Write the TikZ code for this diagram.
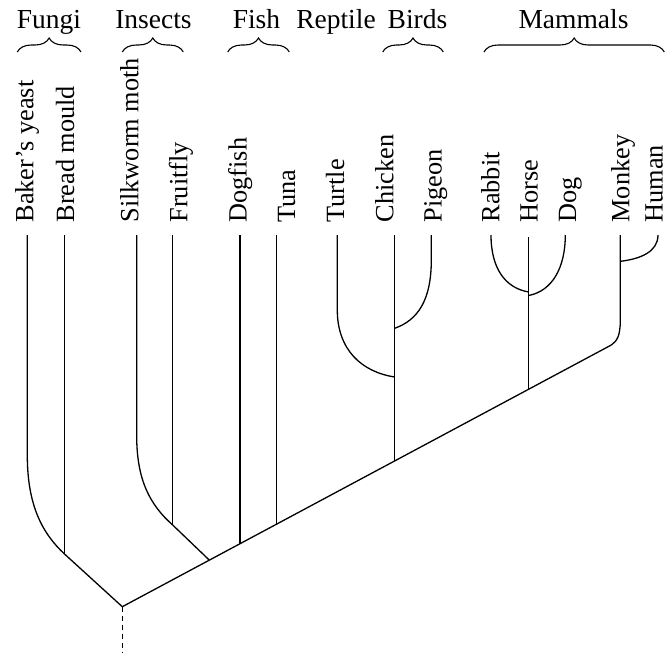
\documentclass[tikz,border=0pt]{standalone}
\usepackage{fontspec}
\setmainfont{Liberation Serif}
\usetikzlibrary{decorations.pathreplacing}
\begin{document}
\begin{tikzpicture}[x=1pt,y=-1pt,
  branch/.style={line width=1.3pt},
  leaf/.style={rotate=90, anchor=base west, inner sep=0pt, font=\fontsize{26.3}{30}\selectfont},
  group/.style={anchor=base, inner sep=0pt, font=\fontsize{27.5}{32}\selectfont},
  grpbrace/.style={decorate, decoration={brace, amplitude=14pt}, line width=1.1pt}]
\useasboundingbox (0,0) rectangle (666,659);

% group labels
\node[group] (gFun) at (49,28.3) {Fungi};
\node[group] (gIns) at (153.5,28.3) {Insects};
\node[group] (gFis) at (256.5,28.3) {Fish};
\node[group] (gRep) at (336,28.3) {Reptile};
\node[group] (gBir) at (417.5,28.3) {Birds};
\node[group] (gMam) at (573.5,28.3) {Mammals};

% braces
\coordinate (bFun1) at (17.3,52); \coordinate (bFun2) at (81,52);
\coordinate (bIns1) at (122.3,52); \coordinate (bIns2) at (183.3,52);
\coordinate (bFis1) at (227.7,52); \coordinate (bFis2) at (289.3,52);
\coordinate (bBir1) at (382.7,52); \coordinate (bBir2) at (443.3,52);
\coordinate (bMam1) at (484,52); \coordinate (bMam2) at (664.3,52);
\draw[grpbrace] (bFun1) -- (bFun2);
\draw[grpbrace] (bIns1) -- (bIns2);
\draw[grpbrace] (bFis1) -- (bFis2);
\draw[grpbrace] (bBir1) -- (bBir2);
\draw[grpbrace] (bMam1) -- (bMam2);

% leaf labels
\node[leaf] (lBak) at (33.3,222.7) {Baker’s yeast};
\node[leaf] (lBre) at (74,222.7) {Bread mould};
\node[leaf] (lSil) at (138.3,222.7) {Silkworm moth};
\node[leaf] (lFru) at (187.3,222.7) {Fruitfly};
\node[leaf] (lDog) at (246.7,222.7) {Dogfish};
\node[leaf] (lTun) at (295,222.7) {Tuna};
\node[leaf] (lTur) at (344,222.7) {Turtle};
\node[leaf] (lChi) at (393.3,222.7) {Chicken};
\node[leaf] (lPig) at (441.7,222.7) {Pigeon};
\node[leaf] (lRab) at (499.3,222.7) {Rabbit};
\node[leaf] (lHor) at (537.7,222.7) {Horse};
\node[leaf] (lDg) at (576,222.7) {Dog};
\node[leaf] (lMon) at (629.3,222.7) {Monkey};
\node[leaf, text depth=0pt] (lHum) at (662.5,222.7) {Human};

% line tops
\coordinate (tBak) at (27.3,235);
\coordinate (tBre) at (64.5,235);
\coordinate (tSil) at (136.7,235);
\coordinate (tFru) at (172.7,235);
\coordinate (tDog) at (240,235);
\coordinate (tTun) at (276.7,235);
\coordinate (tTur) at (337.3,235);
\coordinate (tChi) at (394.7,235);
\coordinate (tPig) at (431.3,235);
\coordinate (tRab) at (491,235);
\coordinate (tHor) at (528.7,237);
\coordinate (tDg) at (565.3,235);
\coordinate (tMon) at (620.3,235);
\coordinate (tHum) at (658,235);

% junctions
\coordinate (root) at (122.3,606.7);
\coordinate (rootEnd) at (122.3,653);
\coordinate (jFun) at (64.5,554);
\coordinate (jIns) at (209.3,560.1);
\coordinate (jFru) at (172.7,525);
\coordinate (jDog) at (240,543.7);
\coordinate (jTun) at (276.7,524.1);
\coordinate (jChi) at (394.7,460.9);
\coordinate (jTur) at (394.7,377);
\coordinate (jPig) at (394.7,328.3);
\coordinate (jHor) at (528.7,389.2);
\coordinate (jRab) at (528.7,292);
\coordinate (jDg) at (528.7,295.5);
\coordinate (jMam) at (611.3,345);
\coordinate (jHum) at (620.3,261.3);

% bends
\coordinate (kBak) at (27.3,455);
\coordinate (kSil) at (136.7,436);
\coordinate (kTur) at (337.3,310);
\coordinate (kPig) at (431.3,260);
\coordinate (kMon) at (620.3,320);

% branches
\draw[branch] (tBak) -- (kBak) .. controls (27.3,505) and (42,533) .. (jFun) -- (root);
\draw[branch] (tBre) -- (jFun);
\draw[branch] (tSil) -- (kSil) .. controls (136.7,480) and (150,505) .. (jFru) -- (jIns);
\draw[branch] (tFru) -- (jFru);
\draw[branch] (root) -- (jMam);
\draw[branch] (tDog) -- (jDog);
\draw[branch] (tTun) -- (jTun);
\draw[branch] (tChi) -- (jChi);
\draw[branch] (tTur) -- (kTur) .. controls (337.3,350) and (362,372) .. (jTur);
\draw[branch] (tPig) -- (kPig) .. controls (431.3,300) and (418,320) .. (jPig);
\draw[branch] (tRab) .. controls (491,268) and (505,288) .. (jRab);
\draw[branch] (tDg) .. controls (565.3,268) and (552,291) .. (jDg);
\draw[branch] (tHor) -- (jHor);
\draw[branch] (tMon) -- (kMon) .. controls (620.3,336) and (617,341) .. (jMam);
\draw[branch] (tHum) .. controls (658,252) and (640,259) .. (jHum);
\draw[branch, dash pattern=on 5pt off 4pt] (root) -- (rootEnd);
\end{tikzpicture}
\end{document}
